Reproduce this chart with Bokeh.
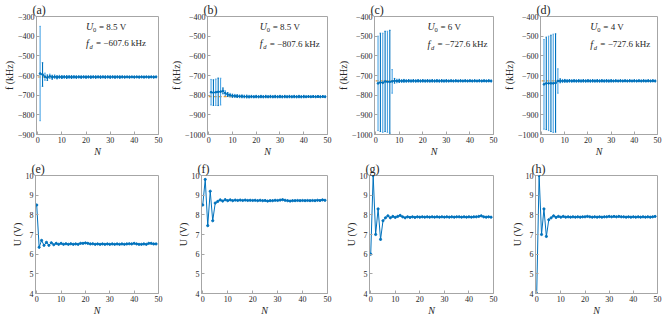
from bokeh.plotting import figure
from bokeh.models import Range1d, FixedTicker
from bokeh.core.properties import value
from bokeh.layouts import column, row
from bokeh.embed import file_html
from bokeh.resources import INLINE

# ---------------- data ----------------
N_top = list(range(1, 50))
N_bot = list(range(0, 50))

x_ticks = [0, 10, 20, 30, 40, 50]
y_ticks_a = [-900, -800, -700, -600, -500, -400, -300]
y_ticks_bcd = [-1000, -900, -800, -700, -600, -500, -400]
y_ticks_bot = [4, 5, 6, 7, 8, 9, 10]

panel_names_top = ["(a)", "(b)", "(c)", "(d)"]
panel_names_bot = ["(e)", "(f)", "(g)", "(h)"]
U0_text = ["= 8.5 V", "= 8.5 V", "= 6 V", "= 4 V"]
fd_values = [-607.6, -807.6, -727.6, -727.6]
fd_text = ["= \u2212607.6 kHz", "= \u2212807.6 kHz", "= \u2212727.6 kHz", "= \u2212727.6 kHz"]

a_mean = [-590, -595, -606, -611, -604, -609, -606, -609, -607, -608,
          -607, -608, -607, -608, -607, -608, -607, -608, -607, -608,
          -607, -608, -607, -608, -607, -608, -607, -608, -607, -608,
          -607, -608, -607, -608, -607, -608, -607, -608, -607, -608,
          -607, -608, -607, -608, -607, -608, -607, -608, -607]
a_err = [240, 60, 18, 14, 11, 10, 9, 8, 8, 7,
         7, 7, 7, 7, 7, 6, 6, 6, 6, 6,
         6, 6, 6, 6, 6, 6, 6, 6, 6, 6,
         6, 6, 6, 6, 6, 5, 5, 5, 5, 5,
         5, 5, 5, 5, 5, 5, 5, 5, 5]

b_mean = [-785, -787, -785, -783, -782, -778, -790, -797, -800, -803,
          -804, -805, -806, -806, -807, -807, -808, -807, -808, -807,
          -808, -807, -808, -807, -808, -807, -808, -807, -808, -807,
          -808, -807, -808, -807, -808, -807, -808, -807, -808, -807,
          -808, -807, -808, -807, -808, -807, -808, -807, -808]
b_err = [65, 65, 67, 70, 68, 15, 12, 10, 9, 8,
         8, 7, 7, 7, 7, 7, 7, 6, 6, 6,
         6, 6, 6, 6, 6, 6, 6, 6, 6, 6,
         6, 6, 6, 6, 6, 6, 6, 6, 6, 6,
         5, 5, 5, 5, 5, 5, 5, 5, 5]

c_mean = [-740, -735, -737, -730, -732, -732, -730, -727, -728, -727,
          -728, -727, -728, -727, -728, -727, -728, -727, -728, -727,
          -728, -727, -728, -727, -728, -727, -728, -727, -728, -727,
          -728, -727, -728, -727, -728, -727, -728, -727, -728, -727,
          -728, -727, -728, -727, -728, -727, -728, -727, -728]
c_err = [240, 250, 252, 255, 257, 262, 60, 12, 9, 8,
         7, 7, 6, 6, 6, 6, 6, 6, 6, 6,
         6, 6, 6, 6, 6, 6, 6, 6, 6, 6,
         5, 5, 5, 5, 5, 5, 5, 5, 5, 5,
         5, 5, 5, 5, 5, 5, 5, 5, 5]

d_mean = [-745, -740, -740, -740, -740, -738, -728, -727, -728, -727,
          -728, -727, -728, -727, -728, -727, -728, -727, -728, -727,
          -728, -727, -728, -727, -728, -727, -728, -727, -728, -727,
          -728, -727, -728, -727, -728, -727, -728, -727, -728, -727,
          -728, -727, -728, -727, -728, -727, -728, -727, -728]
d_err = [228, 235, 240, 245, 250, 250, 62, 10, 8, 7,
         7, 6, 6, 6, 6, 6, 6, 6, 6, 6,
         6, 6, 6, 6, 6, 6, 6, 6, 6, 6,
         5, 5, 5, 5, 5, 5, 5, 5, 5, 5,
         5, 5, 5, 5, 5, 5, 5, 5, 5]

e_U = [8.5, 6.35, 6.7, 6.45, 6.6, 6.45, 6.58, 6.48, 6.55, 6.5,
       6.55, 6.5, 6.53, 6.5, 6.53, 6.5, 6.52, 6.5, 6.55, 6.55,
       6.57, 6.55, 6.52, 6.53, 6.5, 6.52, 6.5, 6.52, 6.5, 6.52,
       6.5, 6.52, 6.5, 6.52, 6.5, 6.52, 6.5, 6.52, 6.53, 6.52,
       6.55, 6.52, 6.5, 6.5, 6.52, 6.5, 6.55, 6.55, 6.52, 6.52]
f_U = [8.5, 9.8, 7.45, 9.2, 7.7, 8.6, 8.68, 8.76, 8.7, 8.77,
       8.72, 8.76, 8.72, 8.75, 8.73, 8.75, 8.73, 8.75, 8.73, 8.74,
       8.73, 8.74, 8.72, 8.74, 8.72, 8.73, 8.7, 8.72, 8.72, 8.74,
       8.73, 8.75, 8.77, 8.74, 8.72, 8.7, 8.72, 8.72, 8.73, 8.72,
       8.73, 8.72, 8.73, 8.72, 8.73, 8.72, 8.74, 8.73, 8.76, 8.74]
g_U = [6.0, 10.0, 7.0, 8.3, 6.75, 7.7, 7.85, 7.95, 7.85, 7.92,
       7.87, 7.92, 7.97, 7.9, 7.85, 7.9, 7.87, 7.9, 7.87, 7.9,
       7.88, 7.9, 7.88, 7.9, 7.88, 7.9, 7.88, 7.9, 7.88, 7.9,
       7.88, 7.9, 7.88, 7.9, 7.88, 7.9, 7.9, 7.88, 7.9, 7.88,
       7.9, 7.88, 7.9, 7.9, 7.92, 7.95, 7.9, 7.88, 7.9, 7.88]
h_U = [4.0, 10.0, 7.0, 8.3, 6.9, 7.75, 7.85, 7.95, 7.87, 7.92,
       7.88, 7.92, 7.88, 7.9, 7.88, 7.9, 7.88, 7.9, 7.88, 7.9,
       7.9, 7.92, 7.9, 7.88, 7.9, 7.88, 7.9, 7.88, 7.9, 7.9,
       7.92, 7.9, 7.92, 7.9, 7.92, 7.9, 7.9, 7.88, 7.9, 7.88,
       7.9, 7.88, 7.9, 7.88, 7.9, 7.88, 7.9, 7.88, 7.9, 7.92]

# ---------------- style ----------------
FONT = "Liberation Serif"
DARK = "#0072BD"
LIGHT = "#4DA6E6"
ORANGE = "#E39A3B"
AXC = "#a6a6a6"
TXT = "#262626"

# per-column geometry: (width, left border, right border)
cols = [(167, 35, 9), (167, 34, 7), (166, 35, 7), (162, 35, 5)]
# per-row geometry: (height, top border, bottom border)
rows_geo = [(159, 15, 23), (159, 16, 23)]


def minus(t):
    return ("\u2212" + str(abs(t))) if t < 0 else str(t)


def make_fig(ci, ri, yr, yticks, ylabel, title):
    w, lb, rb = cols[ci]
    h, tb, bb = rows_geo[ri]
    p = figure(width=w, height=h, output_backend="svg", toolbar_location=None,
               x_range=Range1d(-0.5, 50), y_range=Range1d(yr[0], yr[1]),
               min_border_left=lb, min_border_right=rb,
               min_border_top=tb, min_border_bottom=bb)
    p.title.text = title
    p.title.text_font = FONT
    p.title.text_font_size = "12px"
    p.title.text_font_style = "normal"
    p.title.text_color = TXT
    p.title.align = "left"
    p.title.offset = -4
    p.title.standoff = 0
    p.outline_line_color = AXC
    p.outline_line_width = 1
    p.grid.visible = False
    p.background_fill_color = "white"
    p.border_fill_color = "white"
    p.xaxis.ticker = FixedTicker(ticks=x_ticks)
    p.yaxis.ticker = FixedTicker(ticks=yticks)
    p.yaxis.major_label_overrides = {t: minus(t) for t in yticks}
    for ax in p.axis:
        ax.axis_line_color = AXC
        ax.major_tick_line_color = AXC
        ax.major_tick_in = 3
        ax.major_tick_out = 0
        ax.minor_tick_line_color = None
        ax.major_label_text_font = FONT
        ax.major_label_text_font_size = "8px"
        ax.major_label_text_color = TXT
        ax.major_label_standoff = 2
        ax.axis_label_text_font = FONT
        ax.axis_label_text_font_size = "10px"
        ax.axis_label_text_color = TXT
        ax.axis_label_standoff = 0
    p.xaxis.axis_label = "N"
    p.xaxis.axis_label_text_font_style = "italic"
    p.yaxis.axis_label = ylabel
    p.yaxis.axis_label_text_font_style = "normal"
    return p


top_means = [a_mean, b_mean, c_mean, d_mean]
top_errs = [a_err, b_err, c_err, d_err]
top_yr = [(-900, -300), (-1000, -400), (-1000, -400), (-1000, -400)]
top_ticks = [y_ticks_a, y_ticks_bcd, y_ticks_bcd, y_ticks_bcd]
ann_x = [20.0, 21.5, 22.0, 21.0]
ann_yU = [-352, -452, -453, -453]
ann_yf = [-435, -538, -540, -540]

top_figs = []
for i in range(4):
    p = make_fig(i, 0, top_yr[i], top_ticks[i], "f (kHz)", panel_names_top[i])
    m = top_means[i]
    e = top_errs[i]
    lo = [mm - ee for mm, ee in zip(m, e)]
    hi = [mm + ee for mm, ee in zip(m, e)]
    colors = [LIGHT if k % 2 == 0 else DARK for k in range(len(N_top))]
    capl = [n - 0.3 for n in N_top]
    capr = [n + 0.3 for n in N_top]
    p.line([N_top[0] - 1, N_top[-1]], [fd_values[i], fd_values[i]],
           line_color=ORANGE, line_width=1.2, line_dash="3 2")
    p.segment(x0=N_top, y0=lo, x1=N_top, y1=hi, line_color=colors, line_width=1.1)
    p.segment(x0=capl, y0=lo, x1=capr, y1=lo, line_color=colors, line_width=1)
    p.segment(x0=capl, y0=hi, x1=capr, y1=hi, line_color=colors, line_width=1)
    p.line(N_top, m, line_color=DARK, line_width=1)
    p.scatter(N_top, m, size=1.8, color=DARK)
    kw = dict(text_font=value(FONT), text_color=TXT, text_baseline="middle")
    p.text(x=[ann_x[i]], y=[ann_yU[i]], text=["U"], text_font_style="italic",
           text_font_size="10px", **kw)
    p.text(x=[ann_x[i]], y=[ann_yU[i]], text=["0"], x_offset=7, y_offset=3,
           text_font_size="6.5px", **kw)
    p.text(x=[ann_x[i]], y=[ann_yU[i]], text=[U0_text[i]], x_offset=13,
           text_font_size="9px", **kw)
    p.text(x=[ann_x[i]], y=[ann_yf[i]], text=["f"], text_font_style="italic",
           text_font_size="10px", **kw)
    p.text(x=[ann_x[i]], y=[ann_yf[i]], text=["d"], x_offset=3.5, y_offset=3,
           text_font_style="italic", text_font_size="6.5px", **kw)
    p.text(x=[ann_x[i]], y=[ann_yf[i]], text=[fd_text[i]], x_offset=10,
           text_font_size="9px", **kw)
    top_figs.append(p)

bot_U = [e_U, f_U, g_U, h_U]
bot_figs = []
for i in range(4):
    p = make_fig(i, 1, (4, 10), y_ticks_bot, "U (V)", panel_names_bot[i])
    p.line(N_bot, bot_U[i], line_color=DARK, line_width=1)
    p.scatter(N_bot, bot_U[i], size=2.2, color=DARK)
    bot_figs.append(p)

layout = column(row(*top_figs), row(*bot_figs))
open("out.html", "w").write(file_html(layout, INLINE))
